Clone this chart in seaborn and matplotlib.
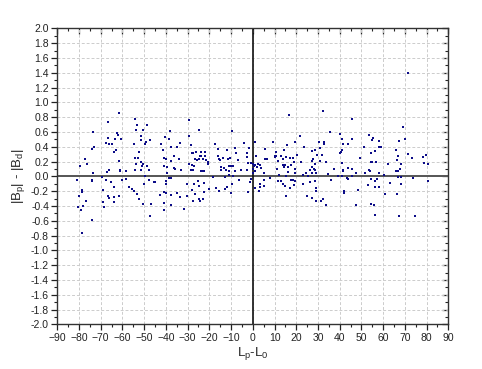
import matplotlib
matplotlib.use("Agg")
import matplotlib.pyplot as plt
import matplotlib.ticker as mticker
import seaborn as sns
import pandas as pd

# Points (L_p - L_0, |B_p| - |B_d|)
x_vals = [
    -73.4, -66.7, -66.7, -67.8, -66.2, -73.0, -73.9, -77.3, -76.5, -79.6, -73.7, -67.1, -66.1,
    -80.8, -73.9, -73.9, -69.6, -67.6, -68.8, -78.8, -78.5, -80.0, -66.8, -66.1, -76.8, -69.1,
    -68.5, -78.0, -80.5, -79.1, -74.0, -78.5,
    -61.4, -54.2, -53.4, -48.8, -53.7, -50.5, -62.3, -62.0, -63.5, -60.6, -51.6, -51.3, -49.1,
    -47.3, -49.7, -64.8, -54.6, -62.9, -63.8, -52.3, -54.2, -52.8, -61.5, -51.3, -53.6, -50.6,
    -51.1, -48.5, -54.2, -51.6, -61.1, -61.1, -58.6, -48.0, -49.7, -58.5, -60.0, -65.5, -64.1,
    -56.9, -55.4, -54.5, -53.4, -52.3, -47.7, -45.7, -45.0, -50.3, -64.1, -61.8, -63.8, -50.5,
    -47.0, -47.3,
    -38.1, -40.5, -38.4, -42.1, -37.8, -41.5, -40.7, -40.0, -36.5, -41.1, -39.3, -36.2, -39.6,
    -37.8, -38.8, -39.9, -40.1, -41.1, -39.9, -42.7, -37.8, -40.8, -40.8, -37.5,
    -29.2, -24.9, -29.4, -9.6, -17.4, -16.0, -33.5, -35.1, -34.1, -37.6, -28.6, -28.2, -27.4,
    -26.2, -23.9, -22.2, -24.2, -23.7, -22.0, -26.5, -24.9, -23.1, -25.6, -21.6, -29.2, -28.0,
    -27.1, -20.6, -20.8, -28.6, -27.7, -24.0, -23.1, -22.3, -36.0, -33.1, -30.5, -35.1, -33.4,
    -31.5, -30.2, -28.2, -26.9, -26.5, -27.7, -25.4, -24.6, -24.5, -24.9, -23.1, -22.5, -22.3,
    -20.0, -18.5, -17.0, -15.5, -13.0, -12.7, -11.9, -9.6, -10.1,
    -16.2, -15.4, -15.0, -13.9, -12.1, -11.4, -10.5, -8.4, -7.8, -6.7, -14.7, -14.7, -13.1,
    -12.4, -11.1, -10.1, -9.3, -10.8, -8.4, -11.1, -9.3, -6.5,
    16.6, 21.9, 1.1, -4.1, 9.2, 19.3, 15.8, 23.5, 5.4, -1.7, -2.9, 10.9, 14.3, 1.4, -2.9,
    10.0, 10.7, 10.3, 13.0, 15.3, 16.9, 18.6, 20.2, 5.4, 6.6, 13.8, 18.9, 22.2, 11.5, -2.0,
    -0.8, 0.0, 1.2, 2.3, 3.1, 0.5, 1.8, 3.8, 13.7, 14.6, 14.3, 16.1, 17.6, 19.2, 11.2, -5.4,
    -2.6, 0.2, 1.1, 0.0, 5.1, 16.1, 19.2, 12.1, 15.3, 23.0, -1.5, -0.8, 7.8, 5.1, 3.5, 5.1,
    3.1, 1.1, 2.8, -2.3, 11.5, 13.0, 13.8, 14.6, 17.6, 18.4, 19.2, 17.3, 18.9, 23.0, 15.5,
    32.3, 45.5, 35.4, 53.5, 40.3, 40.9, 45.5, 30.3, 32.6, 32.6, 41.5, 44.0, 31.1, 28.6, 27.1,
    41.2, 40.6, 40.0, 29.7, 31.7, 51.2, 27.7, 27.4, 30.8, 33.5, 28.6, 49.2, 40.9, 27.1, 28.2,
    26.2, 28.8, 37.2, 41.5, 41.7, 43.7, 45.5, 47.6, 51.8, 53.5, 24.6, 27.2, 29.2, 25.2, 34.8,
    39.4, 40.9, 43.3, 43.9, 45.8, 36.0, 26.5, 28.5, 28.9, 29.2, 24.9, 27.4, 28.9, 31.4, 32.3,
    33.5, 41.8, 42.1, 48.3, 47.3, 53.2,
    71.5, 69.2, 70.0, 67.5, 55.2, 55.1, 58.2, 58.3, 58.9, 56.2, 54.3, 66.1, 66.7, 66.4, 68.1,
    71.3, 73.2, 78.3, 79.6, 78.9, 80.7, 54.3, 54.9, 56.5, 62.3, 53.9, 66.0, 66.7, 67.8, 58.3,
    60.2, 66.9, 68.4, 73.8, 54.3, 57.1, 80.7, 56.2, 63.2, 68.1, 56.2, 58.3, 60.8, 66.4, 54.3,
    55.6, 56.3, 67.4, 74.7,
]
y_vals = [
    0.60, 0.73, 0.52, 0.45, 0.43, 0.39, 0.37, 0.23, 0.17, 0.14, 0.05, 0.06, 0.08,
    -0.05, -0.05, -0.07, -0.01, -0.05, -0.18, -0.18, -0.21, -0.26, -0.27, -0.29, -0.34, -0.35,
    -0.42, -0.40, -0.42, -0.46, -0.59, -0.76,
    0.86, 0.77, 0.69, 0.70, 0.63, 0.62, 0.58, 0.56, 0.51, 0.51, 0.55, 0.49, 0.47,
    0.49, 0.43, 0.44, 0.43, 0.36, 0.33, 0.33, 0.25, 0.25, 0.21, 0.20, 0.17, 0.17,
    0.14, 0.14, 0.09, 0.09, 0.09, 0.07, 0.07, 0.08, 0.01, -0.03, -0.05, -0.08, -0.14,
    -0.15, -0.17, -0.20, -0.24, -0.30, -0.05, -0.08, -0.08, -0.11, -0.28, -0.27, -0.35, -0.37,
    -0.37, -0.54,
    0.61, 0.53, 0.50, 0.43, 0.40, 0.35, 0.25, 0.24, 0.28, 0.14, 0.13, 0.11, 0.04,
    -0.02, -0.02, -0.07, -0.10, -0.21, -0.23, -0.25, -0.25, -0.36, -0.45, -0.39,
    0.76, 0.63, 0.54, 0.61, 0.43, 0.37, 0.45, 0.40, 0.24, 0.21, 0.42, 0.31, 0.31,
    0.33, 0.33, 0.33, 0.28, 0.28, 0.28, 0.24, 0.23, 0.23, 0.22, 0.22, 0.17, 0.15,
    0.14, 0.19, 0.17, 0.09, 0.09, 0.07, 0.07, 0.07, 0.10, 0.08, -0.10, -0.22, -0.28,
    -0.44, -0.27, -0.18, -0.11, -0.24, -0.33, -0.07, -0.13, -0.34, -0.31, -0.30, -0.21, -0.09,
    -0.17, -0.01, -0.16, -0.20, -0.17, -0.01, -0.14, -0.10, -0.22,
    0.28, 0.23, 0.22, 0.25, 0.35, 0.24, 0.25, 0.38, 0.32, 0.22, 0.13, 0.09, 0.11,
    0.09, 0.14, 0.14, 0.14, 0.07, 0.07, 0.02, 0.01, -0.05,
    0.83, 0.55, 0.47, 0.45, 0.47, 0.46, 0.42, 0.40, 0.37, 0.38, 0.32, 0.33, 0.35, 0.27, 0.26,
    0.28, 0.27, 0.26, 0.28, 0.26, 0.25, 0.25, 0.29, 0.23, 0.23, 0.23, 0.20, 0.20, 0.21, 0.18,
    0.18, 0.17, 0.15, 0.16, 0.15, 0.14, 0.13, 0.11, 0.15, 0.15, 0.13, 0.13, 0.15, 0.10, 0.10, 0.08,
    0.08, 0.10, 0.07, 0.05, 0.05, 0.06, 0.05, 0.02, 0.01, 0.02, -0.08, -0.04, -0.02, -0.05, -0.10, -0.13,
    -0.15, -0.16, -0.20, -0.21, -0.07, -0.07, -0.10, -0.13, -0.05, -0.05, -0.07, -0.16, -0.12, -0.11, -0.27,
    0.88, 0.77, 0.60, 0.56, 0.57, 0.51, 0.50, 0.47, 0.47, 0.44, 0.44, 0.44, 0.38, 0.35, 0.34,
    0.35, 0.33, 0.31, 0.29, 0.29, 0.40, 0.24, 0.21, 0.21, 0.20, 0.16, 0.25, 0.18, 0.13, 0.10,
    0.09, 0.08, 0.10, 0.09, 0.07, 0.11, 0.10, 0.05, 0.05, 0.09, 0.05, 0.04, 0.05, 0.01, 0.03,
    0.01, 0.01, -0.02, -0.04, 0.00, -0.05, -0.08, -0.07, -0.16, -0.20, -0.27, -0.29, -0.33, -0.34, -0.30,
    -0.39, -0.20, -0.22, -0.18, -0.39, -0.12,
    1.40, 0.67, 0.51, 0.48, 0.52, 0.49, 0.48, 0.40, 0.40, 0.34, 0.31, 0.36, 0.27, 0.22, 0.17,
    0.30, 0.25, 0.26, 0.29, 0.18, 0.17, 0.20, 0.20, 0.20, 0.16, 0.07, 0.07, 0.07, 0.10, 0.04,
    0.02, -0.01, -0.01, -0.02, -0.03, -0.03, -0.06, -0.07, -0.09, -0.10, -0.15, -0.14, -0.24, -0.24, -0.38,
    -0.39, -0.52, -0.53, -0.53,
]

x_ticks = list(range(-90, 91, 10))
y_ticks = [round(-2.0 + 0.2 * i, 1) for i in range(21)]

df = pd.DataFrame({"x": x_vals, "y": y_vals})

sns.set_style("ticks")
plt.rcParams["font.family"] = ["Liberation Sans", "DejaVu Sans"]
plt.rcParams["mathtext.fontset"] = "custom"
plt.rcParams["mathtext.rm"] = "Liberation Sans"
plt.rcParams["mathtext.it"] = "Liberation Sans"

fig = plt.figure(figsize=(4.82, 3.69), dpi=100)
ax = fig.add_axes([57.3 / 482, 1 - 324.3 / 369, (448.3 - 57.3) / 482, (324.3 - 28.3) / 369])

sns.scatterplot(data=df, x="x", y="y", ax=ax, marker="s", s=4, color="#0c0c88",
                linewidth=0, zorder=3, legend=False)

ax.set_xlim(-90, 90)
ax.set_ylim(-2.0, 2.0)
ax.set_xticks(x_ticks)
ax.set_yticks(y_ticks)
ax.xaxis.set_minor_locator(mticker.MultipleLocator(5))
ax.yaxis.set_minor_locator(mticker.MultipleLocator(0.1))
ax.yaxis.set_major_formatter(mticker.FormatStrFormatter("%.1f"))

ax.grid(True, which="major", color="#cccccc", linestyle=(0, (3, 2)), linewidth=0.7, zorder=0)
ax.axhline(0, color="#555555", linewidth=1.4, zorder=2)
ax.axvline(0, color="#111111", linewidth=1.2, zorder=2)

for s in ax.spines.values():
    s.set_visible(True)
    s.set_linewidth(1.0)
    s.set_color("#333333")

ax.tick_params(axis="both", which="major", direction="out", length=4, width=0.9,
               labelsize=7.5, colors="#222222", pad=2)
ax.tick_params(axis="both", which="minor", direction="out", length=2, width=0.8, colors="#222222")

# top/right ticks point inward: draw them via secondary axes
secx = ax.secondary_xaxis("top")
secx.set_xticks(x_ticks)
secx.xaxis.set_minor_locator(mticker.MultipleLocator(5))
secx.tick_params(which="major", direction="in", length=4, width=0.9, labeltop=False)
secx.tick_params(which="minor", direction="in", length=2, width=0.8)
secx.spines["top"].set_visible(False)
secy = ax.secondary_yaxis("right")
secy.set_yticks(y_ticks)
secy.yaxis.set_minor_locator(mticker.MultipleLocator(0.1))
secy.tick_params(which="major", direction="in", length=4, width=0.9, labelright=False)
secy.tick_params(which="minor", direction="in", length=2, width=0.8)
secy.spines["right"].set_visible(False)
ax.tick_params(which="both", top=False, right=False)

ax.set_xlabel(r"L$_\mathregular{p}$-L$_\mathregular{0}$", fontsize=9.5, labelpad=2)
ax.set_ylabel(r"|B$_\mathregular{p}$| - |B$_\mathregular{d}$|", fontsize=9.5, labelpad=3)

fig.savefig("out.png", dpi=100)
